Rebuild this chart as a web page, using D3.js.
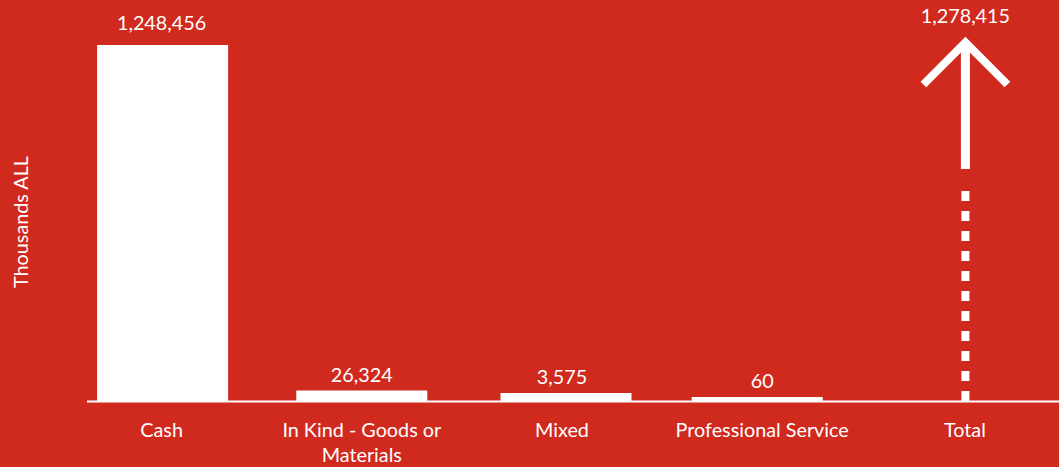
<!DOCTYPE html>
<html><head><meta charset="utf-8">
<script src="https://cdn.jsdelivr.net/npm/d3@7"></script>
<style>html,body{margin:0;padding:0;background:#D0291E;overflow:hidden}svg{display:block}text{font-family:Lato,"Open Sans",sans-serif;fill:#fff}</style>
</head><body><svg id="c" width="1059" height="467"></svg>
<script>
const categories = ["Cash", "In Kind - Goods or Materials", "Mixed", "Professional Service", "Total"];
const categoryLines = [["Cash"], ["In Kind - Goods or", "Materials"], ["Mixed"], ["Professional Service"], ["Total"]];
const values = [1248456, 26324, 3575, 60, null];
const totalValue = 1278415;
const valueLabels = ["1,248,456", "26,324", "3,575", "60", "1,278,415"];
const yTitle = "Thousands ALL";

(function () {
const W = 1059, H = 467, base = 401, plotTop = 45, fs = 19.8;
const svg = d3.select("#c");
svg.append("rect").attr("width", W).attr("height", H).attr("fill", "#D0291E");

const x = d3.scaleBand().domain(categories).range([62, 1062]).paddingInner(0.345).paddingOuter(0.17);
// Bars have a minimum visible height; scale is piecewise to reflect the rendered heights
const h = d3.scaleLinear().domain([0, 60, 3575, 26324, 1248456]).range([0, 4, 8, 10.5, base - plotTop]);
const yPos = v => base - h(v);
const yLin = d3.scaleLinear().domain([0, 1248456]).range([base, plotTop]);

const cx = c => x(c) + x.bandwidth() / 2;
const bw = 131;
const barShift = [1, 0, 4, -5, 0];
const labelShift = [0, 0, 0, 0, 2.5];

categories.forEach((c, i) => {
  if (values[i] == null) return;
  svg.append("rect").attr("x", cx(c) - bw / 2 + barShift[i]).attr("width", bw)
    .attr("y", yPos(values[i])).attr("height", base - yPos(values[i])).attr("fill", "#fff");
  svg.append("text").attr("x", cx(c)).attr("y", yPos(values[i]) - (i === 0 ? 15 : 9))
    .attr("text-anchor", "middle").attr("font-size", fs).text(valueLabels[i]);
});

// baseline
svg.append("line").attr("x1", 87).attr("x2", W).attr("y1", base + 0.5).attr("y2", base + 0.5)
  .attr("stroke", "#fff").attr("stroke-width", 2);

// Total arrow
const tc = cx("Total") + 3;
const apex = yLin(totalValue) + 2;
svg.append("line").attr("x1", tc).attr("x2", tc).attr("y1", base).attr("y2", 191)
  .attr("stroke", "#fff").attr("stroke-width", 8).attr("stroke-dasharray", "10 10");
svg.append("line").attr("x1", tc).attr("x2", tc).attr("y1", 169).attr("y2", apex + 4)
  .attr("stroke", "#fff").attr("stroke-width", 9);
svg.append("path").attr("d", `M${tc - 42},${apex + 46} L${tc},${apex + 4} L${tc + 42},${apex + 46}`)
  .attr("fill", "none").attr("stroke", "#fff").attr("stroke-width", 8).attr("stroke-linejoin", "miter");
svg.append("text").attr("x", tc).attr("y", 23).attr("text-anchor", "middle")
  .attr("font-size", fs).text(valueLabels[4]);

// category labels
categories.forEach((c, i) => {
  const lx = cx(c) + labelShift[i];
  const t = svg.append("text").attr("x", lx).attr("y", 437).attr("text-anchor", "middle").attr("font-size", fs);
  categoryLines[i].forEach((l, j) => t.append("tspan").attr("x", lx).attr("dy", j ? 25 : 0).text(l));
});

// y title
svg.append("text").attr("transform", "translate(28,222) rotate(-90)").attr("text-anchor", "middle")
  .attr("font-size", fs).text(yTitle);
})();
</script></body></html>
